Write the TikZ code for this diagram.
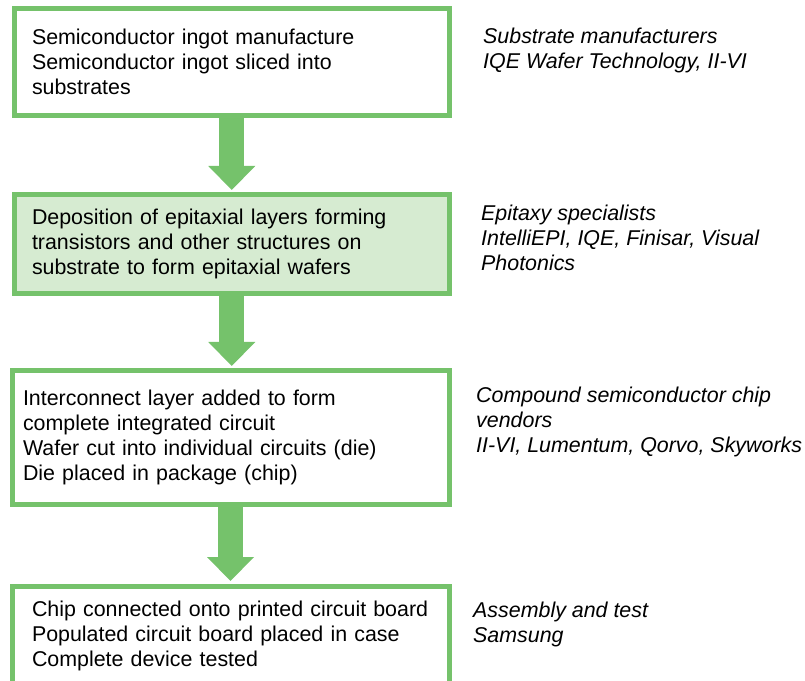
\documentclass[tikz,border=0pt]{standalone}
\usepackage{fontspec}
\setmainfont{Liberation Sans}
\usetikzlibrary{arrows.meta}
\definecolor{leaf}{HTML}{75C26B}
\definecolor{leafpale}{HTML}{D6EBD1}
\definecolor{ink}{HTML}{000000}
\tikzset{
  font=\fontsize{21.4}{25}\selectfont,
  stage/.style={draw=leaf, line width=5pt, align=left, anchor=north west,
    inner ysep=0pt, outer sep=0pt, text=ink},
  firms/.style={font=\fontsize{21.4}{25}\selectfont\itshape, text=ink,
    align=left, anchor=north west, inner sep=0pt},
  flow/.style={leaf, line width=25pt,
    -{Triangle[length=24pt, width=47pt, line width=0pt]}, shorten >=5pt},
}

\begin{document}
\begin{tikzpicture}[x=1pt, y=1pt]
\useasboundingbox (0,0) rectangle (805,680);
\clip (0,0) rectangle (805,680);

% ---------------- process stages ----------------
\node[stage, text width=399.5pt, inner xsep=17.5pt, minimum height=106.5pt]
  (ingot) at (14.5,671)
  {Semiconductor ingot manufacture\\Semiconductor ingot sliced into\\substrates};
\node[stage, fill=leafpale, text width=399.5pt, inner xsep=17.5pt, minimum height=98.5pt]
  (epi) at (14.5,485)
  {Deposition of epitaxial layers forming\\transistors and other structures on\\substrate to form epitaxial wafers};
\node[stage, text width=415pt, inner xsep=11pt, minimum height=133.5pt]
  (chip) at (12,309)
  {Interconnect layer added to form\\complete integrated circuit\\Wafer cut into individual circuits (die)\\Die placed in package (chip)};
% last box runs off the bottom edge
\node[stage, text width=397pt, inner xsep=20pt, minimum height=100pt]
  (board) at (12,94)
  {Chip connected onto printed circuit board\\Populated circuit board placed in case\\Complete device tested};

% ---------------- block arrows between stages ----------------
\foreach \from/\to in {ingot/epi, epi/chip, chip/board}
  \draw[flow] (\from.south) -- (\from.south |- \to.north);

% ---------------- who does it ----------------
\node[firms] (ingotfirms) at (483,654.5)
  {\strut Substrate manufacturers\\IQE Wafer Technology, II-VI};
\node[firms] (epifirms) at (481,477.5)
  {\strut Epitaxy specialists\\IntelliEPI, IQE,  Finisar, Visual\\Photonics};
\node[firms] (chipfirms) at (476,295.5)
  {\strut Compound semiconductor chip\\vendors\\II-VI, Lumentum, Qorvo, Skyworks};
\node[firms] (boardfirms) at (473,80.5)
  {\strut Assembly and test\\Samsung};

\end{tikzpicture}
\end{document}
